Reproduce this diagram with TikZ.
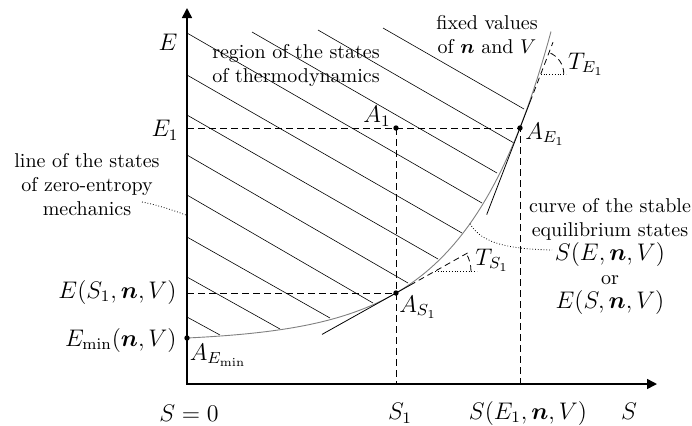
\documentclass[tikz,border=0pt]{standalone}
\usepackage{amsmath,bm}
\usetikzlibrary{arrows.meta}
\begin{document}
\begin{tikzpicture}[x=0.5pt,y=-0.5pt,
  axis/.style={line width=0.8pt,{Triangle[length=5pt,width=5pt]}-{Triangle[length=5pt,width=5pt]}},
  hatch/.style={line width=0.3pt},
  guide/.style={line width=0.5pt,dash pattern=on 3.5pt off 2pt},
  dotpt/.style={circle,fill,inner sep=0pt,minimum size=2.7pt},
  lab/.style={font=\large,inner sep=1pt},
  txt/.style={align=center,inner sep=0pt},
  leader/.style={line width=0.4pt,densely dotted},
  tang/.style={line width=0.4pt},
  eqcurve/.style={gray,line width=0.45pt}
  ]
\useasboundingbox (0,0) rectangle (692,425);
% axes
\coordinate (O) at (187,384);
\coordinate (Etop) at (187,8);
\coordinate (Send) at (657,384);
% hatching
\foreach \xa/\ya/\xb/\yb in {383/28/524/109, 318/30/514/143, 252/32/497/173,
  187/33/482/203, 187/75/462/233, 187/115/438/259, 187/155/408/283,
  187/195/373/303, 187/237/330/318, 187/277/280/329, 187/317/220/335}
  \draw[hatch] (\xa,\ya) -- (\xb,\yb);
% curve
\draw[eqcurve] plot[domain=0:364,samples=120,smooth] ({187+\x},{338-4.08*(exp(0.0119*\x)-1)});
% guide coordinates
\coordinate (E1ax) at (187,128);
\coordinate (ES1ax) at (187,293);
\coordinate (S1ax) at (396,384);
\coordinate (SE1ax) at (520,384);
\coordinate (pA1) at (396,128);
\coordinate (pAE1) at (520,128);
\coordinate (pAS1) at (396,293);
\draw[guide] (E1ax) -- (pAE1) -- (SE1ax);
\draw[guide] (pA1) -- (S1ax);
\draw[guide] (ES1ax) -- (pAS1);
\draw[axis] (Etop) -- (O) -- (Send);
% dots
\node[dotpt] (AEmin) at (187,338) {};
\node[dotpt] (AS1) at (pAS1) {};
\node[dotpt] (A1) at (pA1) {};
\node[dotpt] (AE1) at (pAE1) {};
% tangent at A_S1
\coordinate (TS1lo) at (322,334.4);
\coordinate (TS1mid) at (410,285.2);
\coordinate (TS1hi) at (470,251.6);
\coordinate (TS1v) at (435,271.2);
\coordinate (TS1h) at (477,271.2);
\draw[tang] (TS1lo) -- (TS1mid);
\draw[tang,densely dashed] (TS1mid) -- (TS1hi);
\draw[tang,densely dotted] (TS1v) -- (TS1h);
\draw[tang,densely dashed] ([shift={(36,0)}]TS1v) arc[start angle=0,end angle=29.25,radius=18pt];
% tangent at A_E1
\coordinate (TE1lo) at (486.7,214.6);
\coordinate (TE1mid) at (530,102);
\coordinate (TE1hi) at (553,42.2);
\coordinate (TE1v) at (540.8,74);
\coordinate (TE1h) at (566,74);
\draw[tang] (TE1lo) -- (TE1mid);
\draw[tang,densely dashed] (TE1mid) -- (TE1hi);
\draw[tang,densely dotted] (TE1v) -- (TE1h);
\draw[tang,densely dashed] ([shift={(23,0)}]TE1v) arc[start angle=0,end angle=69,radius=11.5pt];
% texts
\node[txt] (mech) at (87,185) {line of the states\\of zero-entropy\\mechanics};
\node[txt] (region) at (296,65) {region of the states\\of thermodynamics};
\node[txt] (fixed) at (487,35) {fixed values\\of $\bm{n}$ and $V$};
\node[txt] (curvetxt) at (610,256) {curve of the stable\\equilibrium states\\{\large $S(E,\bm{n},V)$}\\or\\{\large $E(S,\bm{n},V)$}};
% leaders
\coordinate (Mstart) at (142,202);
\coordinate (Mend) at (186,215);
\draw[leader] (Mstart) .. controls (158,205) and (172,210) .. (Mend);
\coordinate (Cpt) at (470,223.7);
\coordinate (Lend) at (552,250);
\draw[leader] (Cpt) .. controls (482,244) and (510,249) .. (Lend);
% labels
\node[lab] (Elab) at (168,42) {$E$};
\node[lab] (E1lab) at (165,130) {$E_1$};
\node[lab,anchor=east] (ES1lab) at (179,292) {$E(S_1,\bm{n},V)$};
\node[lab,anchor=east] (Eminlab) at (179,340) {$E_{\min}(\bm{n},V)$};
\node[lab] (AEminlab) at (218,355) {$A_{E_{\min}}$};
\node[lab] (S0lab) at (189,413) {$S=0$};
\node[lab] (S1lab) at (400,413) {$S_1$};
\node[lab] (SE1lab) at (528,413) {$S(E_1,\bm{n},V)$};
\node[lab] (Slab) at (629,411) {$S$};
\node[lab] (A1lab) at (377,116) {$A_1$};
\node[lab] (AE1lab) at (545,134) {$A_{E_1}$};
\node[lab] (AS1lab) at (418,307) {$A_{S_1}$};
\node[lab] (TS1lab) at (492,260) {$T_{S_1}$};
\node[lab] (TE1lab) at (586,64) {$T_{E_1}$};
\end{tikzpicture}
\end{document}
